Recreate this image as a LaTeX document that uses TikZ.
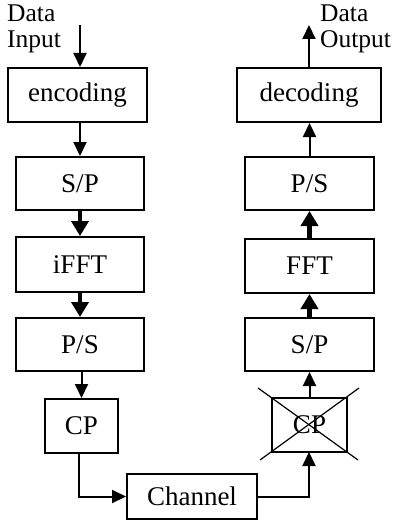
\documentclass[tikz,border=0pt]{standalone}
\usepackage{fontspec}
\setmainfont{Liberation Serif}
\usetikzlibrary{arrows.meta,calc}
\begin{document}
\begin{tikzpicture}[x=1pt,y=-1pt,
  blk/.style={draw,line width=2pt,inner sep=0pt,font=\fontsize{27}{30}\selectfont},
  thin/.style={line width=2pt,-{Triangle[width=13pt,length=14pt]}},
  thick/.style={line width=4.5pt,-{Triangle[width=17pt,length=15pt]}},
  lbl/.style={font=\fontsize{25.5}{26}\selectfont,align=left,inner sep=0pt,anchor=north west}]
\useasboundingbox (0,0) rectangle (397,524);
% left column
\node[blk,minimum width=139pt,minimum height=54pt] (enc) at (77.5,95) {encoding};
\node[blk,minimum width=128pt,minimum height=53pt] (sp1) at (80,183.5) {S/P};
\node[blk,minimum width=128pt,minimum height=55pt] (ifft) at (80,264.5) {iFFT};
\node[blk,minimum width=128pt,minimum height=53pt] (ps1) at (80,344.5) {P/S};
\node[blk,minimum width=73pt,minimum height=54pt] (cp1) at (81.5,426) {CP};
\node[blk,minimum width=130pt,minimum height=45pt] (ch) at (192,496.5) {Channel};
% right column
\node[blk,minimum width=144pt,minimum height=54pt] (dec) at (309,95) {decoding};
\node[blk,minimum width=129pt,minimum height=53pt] (ps2) at (309.5,183.5) {P/S};
\node[blk,minimum width=129pt,minimum height=54pt] (fft) at (309.5,266) {FFT};
\node[blk,minimum width=129pt,minimum height=53pt] (sp2) at (309.5,344.5) {S/P};
\node[blk,minimum width=75pt,minimum height=54pt] (cp2) at (309.5,425) {CP};
% cross
\coordinate (xa) at (258,388); \coordinate (xb) at (358,460);
\coordinate (xc) at (359,388); \coordinate (xd) at (260,460);
\draw[line width=1.2pt] (xa) -- (xb);
\draw[line width=1.2pt] (xc) -- (xd);
% labels
\node[lbl] (din) at (7,5) {Data\\Input};
\node[lbl] (dout) at (320,5) {Data\\Output};
% connectors left
\coordinate (in) at (80,25);
\draw[thin] (in) -- (in |- enc.north);
\coordinate (c1) at (80,122);
\draw[thin] (c1) -- (c1 |- sp1.north);
\draw[thick] (sp1.south) -- (ifft.north);
\draw[thick] (ifft.south) -- (ps1.north);
\coordinate (c2) at (81.5,371);
\draw[thin] (c2) -- (cp1.north);
\coordinate (c3) at (79,453);
\draw[thin] (c3) |- (ch.west);
% connectors right
\coordinate (c4) at (309,452);
\draw[thin] (ch.east) -| (c4);
\draw[thin] (cp2.north) -- (cp2.north |- sp2.south);
\draw[thick] (sp2.north) -- (fft.south);
\draw[thick] (fft.north) -- (ps2.south);
\draw[thin] (ps2.north) -- (ps2.north |- dec.south);
\coordinate (out) at (309,25);
\draw[thin] (dec.north) -- (out);
\end{tikzpicture}
\end{document}
